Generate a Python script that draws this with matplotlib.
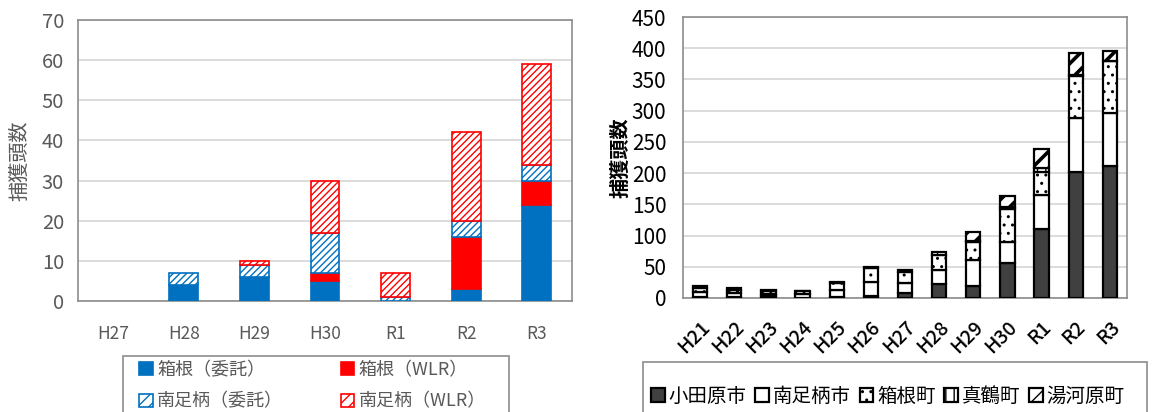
import matplotlib
matplotlib.use("Agg")
import matplotlib.pyplot as plt
from matplotlib.patches import Rectangle, Patch

plt.rcParams['font.family'] = ['Noto Sans CJK JP', 'DejaVu Sans']
plt.rcParams['hatch.linewidth'] = 1.0

# ---- left chart: captures by area / contractor ----
years_left = ["H27", "H28", "H29", "H30", "R1", "R2", "R3"]
hakone_itaku = [0, 4, 6, 5, 0, 3, 24]
hakone_wlr = [0, 0, 0, 2, 0, 13, 6]
minami_itaku = [0, 3, 3, 10, 1, 4, 4]
minami_wlr = [0, 0, 1, 13, 6, 22, 25]
left_labels = ["箱根（委託）", "箱根（WLR）", "南足柄（委託）", "南足柄（WLR）"]

# ---- right chart: captures by municipality ----
years_right = ["H21", "H22", "H23", "H24", "H25", "H26", "H27",
               "H28", "H29", "H30", "R1", "R2", "R3"]
odawara = [2, 2, 3, 0, 1, 3, 8, 22, 20, 56, 110, 202, 212]
minamiashigara = [8, 6, 4, 7, 12, 22, 16, 23, 41, 33, 55, 86, 84]
hakone_town = [6, 5, 4, 4, 11, 23, 18, 24, 28, 54, 37, 67, 83]
manazuru = [3, 3, 2, 1, 1, 1, 3, 4, 2, 2, 6, 2, 1]
yugawara = [0, 0, 0, 0, 0, 0, 0, 0, 14, 18, 31, 36, 16]
right_labels = ["小田原市", "南足柄市", "箱根町", "真鶴町", "湯河原町"]

BLUE = "#0070C0"
RED = "#FF0000"
GRAY_TXT = "#595959"
GRID = "#D9D9D9"
FRAME = "#8C8C8C"

W, H = 1152, 412
fig = plt.figure(figsize=(W / 100, H / 100), dpi=100)


def px_axes(x0, y0, x1, y1):
    return fig.add_axes([x0 / W, 1 - y1 / H, (x1 - x0) / W, (y1 - y0) / H])


# ================= left =================
axL = px_axes(78, 20, 572, 301)
xl = range(len(years_left))
bw = 0.41
bottom = [0] * len(years_left)
styles = [
    dict(color=BLUE, edgecolor=BLUE, hatch=None),
    dict(color=RED, edgecolor=RED, hatch=None),
    dict(color="white", edgecolor=BLUE, hatch="/////"),
    dict(color="white", edgecolor=RED, hatch="/////"),
]
handles_L = []
for vals, st, lab in zip([hakone_itaku, hakone_wlr, minami_itaku, minami_wlr],
                         styles, left_labels):
    lw = [1.2 if v else 0 for v in vals]
    axL.bar(xl, vals, bw, bottom=bottom, color=st["color"],
            edgecolor=st["edgecolor"], hatch=st["hatch"],
            linewidth=lw, zorder=3)
    handles_L.append(Patch(facecolor=st["color"], edgecolor=st["edgecolor"],
                           hatch=("///" if st["hatch"] else None), linewidth=1.2,
                           label=lab))
    bottom = [b + v for b, v in zip(bottom, vals)]

axL.set_xlim(-0.5, len(years_left) - 0.5)
axL.set_ylim(0, 70)
axL.set_yticks(range(0, 71, 10))
axL.set_xticks(list(xl))
axL.set_xticklabels(years_left)
axL.tick_params(length=0, colors=GRAY_TXT, labelsize=12.5)
axL.tick_params(axis="y", labelsize=14.5, pad=10)
axL.tick_params(axis="x", pad=17)
axL.yaxis.grid(True, color=GRID, linewidth=1.3, zorder=0)
axL.set_axisbelow(True)
for s in axL.spines.values():
    s.set_color(FRAME)
    s.set_linewidth(1.2)
axL.set_ylabel("捕獲頭数", fontsize=14.5, color=GRAY_TXT, labelpad=8)

# legend (filled column-wise, so order gives the 2x2 layout)
order = [0, 2, 1, 3]
fig.legend([handles_L[i] for i in order], [left_labels[i] for i in order],
           ncol=2, loc="upper left", bbox_to_anchor=(139 / W, 1 - 361 / H),
           frameon=False, borderpad=0, borderaxespad=0, fontsize=13,
           handlelength=0.75, handleheight=0.75, handletextpad=0.25,
           columnspacing=3.2, labelspacing=0.75, labelcolor=GRAY_TXT)
fig.patches.append(Rectangle((123 / W, -0.05), (509 - 123) / W, 1 - 356 / H + 0.05,
                             transform=fig.transFigure, fill=False,
                             edgecolor=FRAME, linewidth=1.2))

# ================= right =================
axR = px_axes(683, 17, 1127, 298)
xr = range(len(years_right))
bw2 = 0.42
bottom = [0] * len(years_right)
styles_r = [
    dict(color="#404040", hatch=None),
    dict(color="white", hatch=None),
    dict(color="white", hatch=".."),
    dict(color="white", hatch="||"),
    dict(color="white", hatch="//"),
]
handles_R = []
for vals, st, lab in zip([odawara, minamiashigara, hakone_town, manazuru, yugawara],
                         styles_r, right_labels):
    lw = [1.6 if v else 0 for v in vals]
    bars = axR.bar(xr, vals, bw2, bottom=bottom, color=st["color"],
                   edgecolor="black", hatch=st["hatch"], linewidth=lw,
                   zorder=3)
    h = Patch(facecolor=st["color"], edgecolor="black", linewidth=1.6,
              hatch=st["hatch"], label=lab)
    if st["hatch"] == "//":
        for p in list(bars.patches) + [h]:
            if hasattr(p, "set_hatch_linewidth"):
                p.set_hatch_linewidth(2.6)
    handles_R.append(h)
    bottom = [b + v for b, v in zip(bottom, vals)]

axR.set_xlim(-0.5, len(years_right) - 0.5)
axR.set_ylim(0, 450)
axR.set_yticks(range(0, 451, 50))
axR.set_xticks(list(xr))
axR.set_xticklabels(years_right, rotation=45, ha="right", rotation_mode="anchor",
                    fontsize=14, fontweight="medium")
axR.tick_params(length=0, colors="black")
axR.tick_params(axis="y", labelsize=15, pad=12)
axR.tick_params(axis="x", pad=14)
axR.yaxis.grid(True, color=GRID, linewidth=1.3, zorder=0)
axR.set_axisbelow(True)
for s in axR.spines.values():
    s.set_color(FRAME)
    s.set_linewidth(1.2)
axR.set_ylabel("捕獲頭数", fontsize=14.5, fontweight="bold", labelpad=1)

fig.legend(handles_R, right_labels, ncol=5, loc="upper left",
           bbox_to_anchor=(651 / W, 1 - 386 / H), frameon=False,
           borderpad=0, borderaxespad=0, fontsize=14,
           handlelength=0.7, handleheight=0.7, handletextpad=0.2,
           columnspacing=0.45)
fig.patches.append(Rectangle((643 / W, -0.05), (1147 - 643) / W, 1 - 362 / H + 0.05,
                             transform=fig.transFigure, fill=False,
                             edgecolor=FRAME, linewidth=1.2))

fig.savefig("out.png", dpi=100)
